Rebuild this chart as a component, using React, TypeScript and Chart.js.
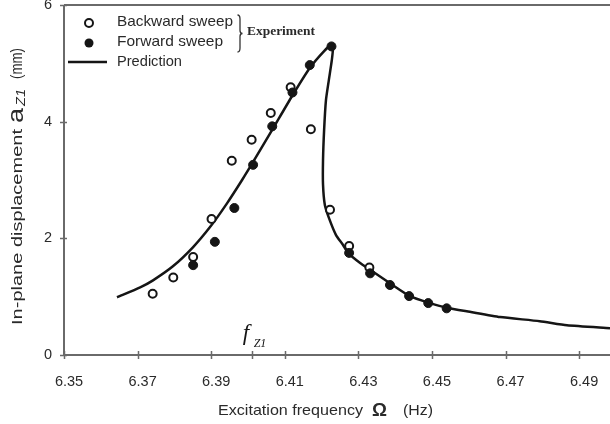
import React, { useEffect, useRef } from "react";
import { Chart, registerables } from "chart.js";

Chart.register(...registerables);

// ---------- data ----------
const xTickValues = [6.35, 6.37, 6.39, 6.41, 6.43, 6.45, 6.47, 6.49];
const yTickValues = [0, 2, 4, 6];
const fZ1Value = 6.401;

const predictionX = [
  6.3644, 6.3707, 6.3742, 6.3796, 6.3851, 6.3899, 6.3943, 6.3984, 6.4014, 6.4065,
  6.412, 6.4168, 6.4207, 6.4226, 6.4231, 6.4228, 6.422, 6.4212, 6.4207, 6.4204,
  6.4204, 6.4209, 6.422, 6.4239, 6.4258, 6.4272, 6.4304, 6.4332, 6.4386, 6.444,
  6.4495, 6.4541, 6.4603, 6.4685, 6.4793, 6.4867, 6.4984,
];
const predictionY = [
  0.99, 1.16, 1.28, 1.52, 1.85, 2.21, 2.6, 3.0, 3.31, 3.85,
  4.44, 4.92, 5.21, 5.31, 5.27, 5.06, 4.72, 4.37, 3.86, 3.34,
  2.92, 2.57, 2.35, 2.06, 1.89, 1.75, 1.58, 1.46, 1.23, 1.01,
  0.89, 0.81, 0.74, 0.65, 0.58, 0.51, 0.46,
];

const backwardX = [6.3741, 6.3797, 6.3851, 6.3901, 6.3956, 6.401, 6.4062, 6.4116, 6.4171, 6.4223, 6.4275, 6.433];
const backwardY = [1.05, 1.33, 1.68, 2.33, 3.33, 3.69, 4.15, 4.59, 3.87, 2.49, 1.87, 1.5];

const forwardX = [6.3851, 6.391, 6.3963, 6.4014, 6.4066, 6.4121, 6.4168, 6.4227, 6.4275, 6.4332, 6.4386, 6.4438, 6.449, 6.454];
const forwardY = [1.54, 1.94, 2.52, 3.26, 3.92, 4.5, 4.97, 5.29, 1.75, 1.4, 1.2, 1.01, 0.89, 0.8];

const legendLabels = ["Backward sweep", "Forward sweep", "Prediction"];
const experimentLabel = "Experiment";
const xTitleParts = ["Excitation frequency", "Ω", "(Hz)"];
const yTitleParts = ["In-plane displacement", "a", "Z1", "(mm)"];
const fLabel = ["f", "Z1"];

// ---------- styles ----------
const SANS = "'Liberation Sans', Arial, sans-serif";
const SERIF = "'Liberation Serif', 'Times New Roman', serif";
const INK = "#151515";
const TEXT = "#2a2a2a";
const AXIS = "#6a6a6a";

function stretchText(
  ctx: CanvasRenderingContext2D,
  text: string,
  x: number,
  y: number,
  font: string,
  width?: number
) {
  ctx.save();
  ctx.font = font;
  const w = ctx.measureText(text).width;
  const sx = width ? width / w : 1;
  ctx.translate(x, y);
  ctx.scale(sx, 1);
  ctx.fillText(text, 0, 0);
  ctx.restore();
}

const decorPlugin = {
  id: "decor",
  beforeDatasetsDraw(chart: any) {
    const { ctx, chartArea: ca, scales } = chart;
    ctx.save();
    ctx.strokeStyle = AXIS;
    ctx.lineWidth = 2;
    ctx.beginPath();
    ctx.moveTo(ca.left, ca.top);
    ctx.lineTo(ca.right, ca.top);
    ctx.moveTo(ca.left, ca.top);
    ctx.lineTo(ca.left, ca.bottom);
    ctx.lineTo(ca.right, ca.bottom);
    ctx.stroke();
    ctx.lineWidth = 1.5;
    ctx.beginPath();
    [...xTickValues, fZ1Value].forEach((v) => {
      const px = Math.round(scales.x.getPixelForValue(v)) + 0.5;
      ctx.moveTo(px, ca.bottom - 4);
      ctx.lineTo(px, ca.bottom + 4);
    });
    yTickValues.forEach((v) => {
      const py = Math.round(scales.y.getPixelForValue(v)) + 0.5;
      ctx.moveTo(ca.left - 4, py);
      ctx.lineTo(ca.left + 3, py);
    });
    ctx.stroke();
    ctx.restore();
  },
  afterDraw(chart: any) {
    const { ctx, chartArea: ca, scales } = chart;
    ctx.save();
    ctx.fillStyle = TEXT;
    ctx.textBaseline = "middle";

    // legend
    const lx = ca.left + 25;
    const rows = [ca.top + 17, ca.top + 37, ca.top + 57];
    ctx.strokeStyle = INK;
    ctx.lineWidth = 2;
    ctx.fillStyle = "#fff";
    ctx.beginPath();
    ctx.arc(lx, rows[0] + 1, 4, 0, Math.PI * 2);
    ctx.fill();
    ctx.stroke();
    ctx.fillStyle = INK;
    ctx.beginPath();
    ctx.arc(lx, rows[1] + 1, 4.5, 0, Math.PI * 2);
    ctx.fill();
    ctx.lineWidth = 2.5;
    ctx.beginPath();
    ctx.moveTo(ca.left + 4, rows[2]);
    ctx.lineTo(ca.left + 43, rows[2]);
    ctx.stroke();
    ctx.fillStyle = TEXT;
    stretchText(ctx, legendLabels[0], ca.left + 53, rows[0], `15px ${SANS}`, 116);
    stretchText(ctx, legendLabels[1], ca.left + 53, rows[1], `15px ${SANS}`, 106);
    stretchText(ctx, legendLabels[2], ca.left + 53, rows[2], `15px ${SANS}`, 65);

    // brace
    const bx = ca.left + 175;
    const bt = ca.top + 10;
    const bb = ca.top + 47;
    const bm = (bt + bb) / 2;
    ctx.lineWidth = 1.3;
    ctx.strokeStyle = "#333";
    ctx.beginPath();
    ctx.moveTo(bx - 1.5, bt);
    ctx.quadraticCurveTo(bx + 1, bt, bx + 1, bt + 4);
    ctx.lineTo(bx + 1, bm - 3);
    ctx.quadraticCurveTo(bx + 1, bm, bx + 3.5, bm);
    ctx.quadraticCurveTo(bx + 1, bm, bx + 1, bm + 3);
    ctx.lineTo(bx + 1, bb - 4);
    ctx.quadraticCurveTo(bx + 1, bb, bx - 1.5, bb);
    ctx.stroke();
    stretchText(ctx, experimentLabel, ca.left + 183, ca.top + 27, `bold 13px ${SERIF}`, 68);

    // f_Z1 annotation
    const fx = scales.x.getPixelForValue(fZ1Value);
    ctx.textBaseline = "alphabetic";
    ctx.fillStyle = INK;
    stretchText(ctx, fLabel[0], fx - 9, ca.bottom - 15, `italic 23px ${SERIF}`);
    stretchText(ctx, fLabel[1], fx + 2, ca.bottom - 8, `italic 12px ${SERIF}`);

    // x title
    ctx.fillStyle = TEXT;
    ctx.textBaseline = "middle";
    const ty = 411;
    stretchText(ctx, xTitleParts[0], 218, ty, `15px ${SANS}`, 145);
    stretchText(ctx, xTitleParts[1], 372, ty, `bold 18px ${SANS}`, 15);
    stretchText(ctx, xTitleParts[2], 403, ty, `15px ${SANS}`, 30);

    // y title (rotated)
    ctx.save();
    ctx.translate(18, 0);
    ctx.rotate(-Math.PI / 2);
    stretchText(ctx, yTitleParts[0], -325, 0, `15px ${SANS}`, 196);
    stretchText(ctx, yTitleParts[1], -123, -1, `22px ${SANS}`, 15);
    stretchText(ctx, yTitleParts[2], -106, 4, `italic 12px ${SANS}`, 17);
    stretchText(ctx, yTitleParts[3], -79, 0, `16px ${SANS}`, 31);
    ctx.restore();

    ctx.restore();
  },
};

export default function App() {
  const ref = useRef<HTMLCanvasElement>(null);

  useEffect(() => {
    if (!ref.current) return;
    const tickFont = { family: SANS, size: 14.5 };
    const chart = new Chart(ref.current, {
      type: "scatter",
      data: {
        datasets: [
          {
            label: legendLabels[1],
            data: forwardX.map((x, i) => ({ x, y: forwardY[i] })),
            pointRadius: 4.5,
            pointBackgroundColor: INK,
            pointBorderColor: INK,
            pointBorderWidth: 1,
            showLine: false,
          },
          {
            label: legendLabels[0],
            data: backwardX.map((x, i) => ({ x, y: backwardY[i] })),
            pointRadius: 4,
            pointBackgroundColor: "#fff",
            pointBorderColor: INK,
            pointBorderWidth: 2,
            showLine: false,
          },
          {
            label: legendLabels[2],
            data: predictionX.map((x, i) => ({ x, y: predictionY[i] })),
            showLine: true,
            pointRadius: 0,
            borderColor: INK,
            borderWidth: 2.5,
            tension: 0.2,
            fill: false,
          },
        ],
      },
      options: {
        animation: false,
        responsive: false,
        layout: { autoPadding: false, padding: { top: 5, right: 0, left: 0, bottom: 0 } },
        plugins: { legend: { display: false }, tooltip: { enabled: false } },
        scales: {
          x: {
            type: "linear",
            min: 6.35,
            max: 6.4984,
            afterBuildTicks: (s: any) => {
              s.ticks = xTickValues.map((v) => ({ value: v }));
            },
            afterFit: (s: any) => {
              s.height = 69;
              s.paddingLeft = 0;
              s.paddingRight = 0;
              s.paddingTop = 0;
              s.paddingBottom = 0;
            },
            grid: { display: false, drawTicks: false },
            border: { display: false },
            ticks: {
              padding: 18,
              labelOffset: 5,
              autoSkip: false,
              maxRotation: 0,
              font: tickFont,
              color: TEXT,
              callback: (v: any) => Number(v).toFixed(2),
            },
          },
          y: {
            type: "linear",
            min: 0,
            max: 6,
            afterBuildTicks: (s: any) => {
              s.ticks = yTickValues.map((v) => ({ value: v }));
            },
            afterFit: (s: any) => {
              s.width = 64;
              s.paddingLeft = 0;
              s.paddingRight = 0;
              s.paddingTop = 0;
              s.paddingBottom = 0;
            },
            grid: { display: false, drawTicks: false },
            border: { display: false },
            ticks: {
              padding: 12,
              font: tickFont,
              color: TEXT,
              callback: (v: any) => String(v),
            },
          },
        },
      },
      plugins: [decorPlugin],
    });
    return () => chart.destroy();
  }, []);

  return (
    <div style={{ position: "fixed", left: 0, top: 0, width: 610, height: 424, background: "#fff" }}>
      <canvas ref={ref} width={610} height={424} style={{ display: "block" }} />
    </div>
  );
}
